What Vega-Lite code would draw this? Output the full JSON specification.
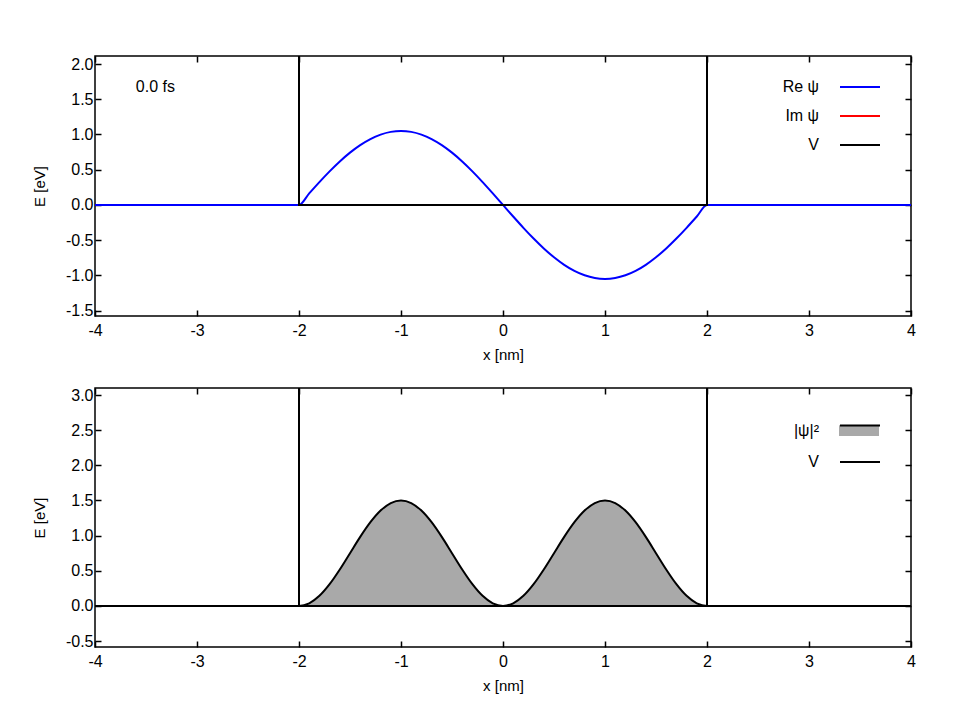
{
  "$schema": "https://vega.github.io/schema/vega-lite/v6.json",
  "background": "white",
  "padding": {"left": 31, "top": 54, "right": 10, "bottom": 5},
  "spacing": 23,
  "config": {
    "font": "Liberation Sans",
    "view": {"stroke": "black", "strokeWidth": 1.5},
    "axis": {
      "domain": false, "grid": false, "ticks": true, "tickColor": "black", "tickSize": -6, "tickWidth": 1.5,
      "labelColor": "black", "labelFontSize": 16, "labelFont": "Liberation Sans", "labelPadding": 8,
      "labelOverlap": false, "labelFlush": false, "labelBound": false,
      "titleFont": "Liberation Sans", "titleFontSize": 15, "titleFontWeight": "normal", "titleColor": "black"
    },
    "legend": {"titleFontSize": 0, "labelFontSize": 16, "labelColor": "black", "labelFont": "Liberation Sans"}
  },
  "datasets": {
    "wave": [
      {"x": -4, "re": 0, "im": 0, "rho": 0},
      {"x": -2, "re": 0, "im": 0, "rho": 0},
      {"x": -1.9, "re": 0.1643, "im": 0, "rho": 0.0367},
      {"x": -1.8, "re": 0.3245, "im": 0, "rho": 0.1432},
      {"x": -1.7, "re": 0.4767, "im": 0, "rho": 0.3092},
      {"x": -1.6, "re": 0.6172, "im": 0, "rho": 0.5182},
      {"x": -1.5, "re": 0.7425, "im": 0, "rho": 0.75},
      {"x": -1.4, "re": 0.8495, "im": 0, "rho": 0.9818},
      {"x": -1.3, "re": 0.9356, "im": 0, "rho": 1.1908},
      {"x": -1.2, "re": 0.9986, "im": 0, "rho": 1.3568},
      {"x": -1.1, "re": 1.0371, "im": 0, "rho": 1.4633},
      {"x": -1.0, "re": 1.05, "im": 0, "rho": 1.5},
      {"x": -0.9, "re": 1.0371, "im": 0, "rho": 1.4633},
      {"x": -0.8, "re": 0.9986, "im": 0, "rho": 1.3568},
      {"x": -0.7, "re": 0.9356, "im": 0, "rho": 1.1908},
      {"x": -0.6, "re": 0.8495, "im": 0, "rho": 0.9818},
      {"x": -0.5, "re": 0.7425, "im": 0, "rho": 0.75},
      {"x": -0.4, "re": 0.6172, "im": 0, "rho": 0.5182},
      {"x": -0.3, "re": 0.4767, "im": 0, "rho": 0.3092},
      {"x": -0.2, "re": 0.3245, "im": 0, "rho": 0.1432},
      {"x": -0.1, "re": 0.1643, "im": 0, "rho": 0.0367},
      {"x": 0.0, "re": 0, "im": 0, "rho": 0},
      {"x": 0.1, "re": -0.1643, "im": 0, "rho": 0.0367},
      {"x": 0.2, "re": -0.3245, "im": 0, "rho": 0.1432},
      {"x": 0.3, "re": -0.4767, "im": 0, "rho": 0.3092},
      {"x": 0.4, "re": -0.6172, "im": 0, "rho": 0.5182},
      {"x": 0.5, "re": -0.7425, "im": 0, "rho": 0.75},
      {"x": 0.6, "re": -0.8495, "im": 0, "rho": 0.9818},
      {"x": 0.7, "re": -0.9356, "im": 0, "rho": 1.1908},
      {"x": 0.8, "re": -0.9986, "im": 0, "rho": 1.3568},
      {"x": 0.9, "re": -1.0371, "im": 0, "rho": 1.4633},
      {"x": 1.0, "re": -1.05, "im": 0, "rho": 1.5},
      {"x": 1.1, "re": -1.0371, "im": 0, "rho": 1.4633},
      {"x": 1.2, "re": -0.9986, "im": 0, "rho": 1.3568},
      {"x": 1.3, "re": -0.9356, "im": 0, "rho": 1.1908},
      {"x": 1.4, "re": -0.8495, "im": 0, "rho": 0.9818},
      {"x": 1.5, "re": -0.7425, "im": 0, "rho": 0.75},
      {"x": 1.6, "re": -0.6172, "im": 0, "rho": 0.5182},
      {"x": 1.7, "re": -0.4767, "im": 0, "rho": 0.3092},
      {"x": 1.8, "re": -0.3245, "im": 0, "rho": 0.1432},
      {"x": 1.9, "re": -0.1643, "im": 0, "rho": 0.0367},
      {"x": 2, "re": 0, "im": 0, "rho": 0},
      {"x": 4, "re": 0, "im": 0, "rho": 0}
    ],
    "pot": [
      {"x": -2, "v": 10, "i": 1},
      {"x": -2, "v": 0, "i": 2},
      {"x": 2, "v": 0, "i": 3},
      {"x": 2, "v": 10, "i": 4}
    ],
    "time": [{"label": "0.0 fs", "x": -3.6, "y": 1.67}]
  },
  "resolve": {"scale": {"color": "independent", "fill": "independent", "stroke": "independent"}, "legend": {"color": "independent", "fill": "independent", "stroke": "independent"}},
  "vconcat": [
    {
      "width": 816, "height": 260,
      "resolve": {"scale": {"x": "independent", "y": "independent"}},
      "layer": [
        {
          "encoding": {
            "x": {"field": "x", "type": "quantitative",
              "scale": {"domain": [-4, 4], "nice": false, "zero": false},
              "axis": {"values": [-4, -3, -2, -1, 0, 1, 2, 3, 4], "title": "x [nm]", "titleY": 38, "titleBaseline": "middle",
                "labelPadding": 12, "labelOverlap": false,
                "labelExpr": "(datum.value < 0 ? '-' : '') + format(abs(datum.value), 'd')"}},
            "y": {"field": "re", "type": "quantitative",
              "scale": {"domain": [-1.576, 2.114], "nice": false, "zero": false},
              "axis": {"values": [-1.5, -1, -0.5, 0, 0.5, 1, 1.5, 2], "title": "E [eV]", "titleX": -56, "titleBaseline": "middle",
                "labelOverlap": false,
                "labelExpr": "(datum.value < 0 ? '-' : '') + format(abs(datum.value), '.1f')"}}
          },
          "layer": [
            {
              "data": {"name": "wave"},
              "mark": {"type": "line", "strokeWidth": 2, "clip": true, "interpolate": "monotone"},
              "encoding": {
                "y": {"field": "im", "type": "quantitative"},
                "color": {"datum": "Im ψ", "type": "nominal",
                  "scale": {"domain": ["Re ψ", "Im ψ", "V"], "range": ["#0000ff", "#ff0000", "#000000"]},
                  "legend": {"orient": "none", "legendX": 744, "legendY": 10, "symbolType": "stroke", "symbolSize": 1600,
                    "symbolStrokeWidth": 2, "rowPadding": -15.5, "labelAlign": "right", "labelOffset": -62,
                    "title": null, "padding": 0}}
              }
            },
            {
              "data": {"name": "wave"},
              "mark": {"type": "line", "strokeWidth": 2, "clip": true, "interpolate": "monotone"},
              "encoding": {
                "y": {"field": "re", "type": "quantitative"},
                "color": {"datum": "Re ψ", "type": "nominal"}
              }
            },
            {
              "data": {"name": "pot"},
              "mark": {"type": "line", "strokeWidth": 2, "clip": true},
              "encoding": {
                "y": {"field": "v", "type": "quantitative"},
                "order": {"field": "i", "type": "quantitative"},
                "color": {"datum": "V", "type": "nominal"}
              }
            },
            {
              "data": {"name": "time"},
              "mark": {"type": "text", "align": "left", "baseline": "middle", "fontSize": 16, "color": "black"},
              "encoding": {
                "y": {"field": "y", "type": "quantitative"},
                "text": {"field": "label"}
              }
            }
          ]
        },
        {
          "data": {"name": "time"},
          "mark": {"type": "point", "opacity": 0},
          "encoding": {
            "x": {"field": "x", "type": "quantitative", "scale": {"domain": [-4, 4], "nice": false, "zero": false},
              "axis": {"orient": "top", "values": [-4, -3, -2, -1, 0, 1, 2, 3, 4], "labels": false, "title": null}},
            "y": {"field": "y", "type": "quantitative", "scale": {"domain": [-1.576, 2.114], "nice": false, "zero": false},
              "axis": {"orient": "right", "values": [-1.5, -1, -0.5, 0, 0.5, 1, 1.5, 2], "labels": false, "title": null}}
          }
        }
      ]
    },
    {
      "width": 816, "height": 259,
      "resolve": {"scale": {"x": "independent", "y": "independent"}},
      "layer": [
        {
          "encoding": {
            "x": {"field": "x", "type": "quantitative",
              "scale": {"domain": [-4, 4], "nice": false, "zero": false},
              "axis": {"values": [-4, -3, -2, -1, 0, 1, 2, 3, 4], "title": "x [nm]", "titleY": 38, "titleBaseline": "middle",
                "labelPadding": 12, "labelOverlap": false,
                "labelExpr": "(datum.value < 0 ? '-' : '') + format(abs(datum.value), 'd')"}},
            "y": {"field": "rho", "type": "quantitative",
              "scale": {"domain": [-0.585, 3.1], "nice": false, "zero": false},
              "axis": {"values": [-0.5, 0, 0.5, 1, 1.5, 2, 2.5, 3], "title": "E [eV]", "titleX": -56, "titleBaseline": "middle",
                "labelOverlap": false,
                "labelExpr": "(datum.value < 0 ? '-' : '') + format(abs(datum.value), '.1f')"}}
          },
          "layer": [
            {
              "data": {"name": "wave"},
              "mark": {"type": "area", "clip": true, "interpolate": "monotone"},
              "encoding": {
                "fill": {"datum": "area", "type": "nominal", "scale": {"domain": ["area"], "range": ["#a9a9a9"]},
                  "legend": {"orient": "none", "legendX": 744, "legendY": 22, "symbolType": "M-1,-0.24H1V0.3H-1Z", "symbolSize": 1600,
                    "symbolStrokeWidth": 0, "labelExpr": "''", "title": null, "padding": 0}}
              }
            },
            {
              "data": {"name": "wave"},
              "mark": {"type": "line", "strokeWidth": 2, "clip": true, "interpolate": "monotone"},
              "encoding": {
                "stroke": {"datum": "|ψ|²", "type": "nominal", "scale": {"domain": ["|ψ|²"], "range": ["#000000"]},
                  "legend": {"orient": "none", "legendX": 744, "legendY": 22, "symbolType": "M-1,-0.28H1", "symbolSize": 1600,
                    "symbolStrokeWidth": 2, "labelAlign": "right", "labelOffset": -62,
                    "title": null, "padding": 0}}
              }
            },
            {
              "data": {"name": "pot"},
              "mark": {"type": "line", "strokeWidth": 2, "clip": true},
              "encoding": {
                "y": {"field": "v", "type": "quantitative"},
                "order": {"field": "i", "type": "quantitative"},
                "color": {"datum": "V", "type": "nominal", "scale": {"domain": ["V"], "range": ["#000000"]},
                  "legend": {"orient": "none", "legendX": 744, "legendY": 53, "symbolType": "stroke", "symbolSize": 1600,
                    "symbolStrokeWidth": 2, "labelAlign": "right", "labelOffset": -62,
                    "title": null, "padding": 0}}
              }
            }
          ]
        },
        {
          "data": {"name": "time"},
          "mark": {"type": "point", "opacity": 0},
          "encoding": {
            "x": {"field": "x", "type": "quantitative", "scale": {"domain": [-4, 4], "nice": false, "zero": false},
              "axis": {"orient": "top", "values": [-4, -3, -2, -1, 0, 1, 2, 3, 4], "labels": false, "title": null}},
            "y": {"field": "y", "type": "quantitative", "scale": {"domain": [-0.585, 3.1], "nice": false, "zero": false},
              "axis": {"orient": "right", "values": [-0.5, 0, 0.5, 1, 1.5, 2, 2.5, 3], "labels": false, "title": null}}
          }
        }
      ]
    }
  ]
}
